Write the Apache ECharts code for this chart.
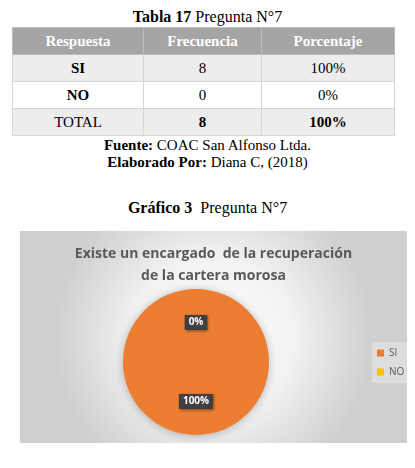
<!DOCTYPE html>
<html><head><meta charset="utf-8">
<script src="https://cdn.jsdelivr.net/npm/echarts@6/dist/echarts.min.js"></script>
<style>
body{margin:0;background:#fff;width:415px;height:468px;position:relative;overflow:hidden;font-family:"Liberation Serif","Times New Roman",serif;color:#000}
.t{position:absolute;left:0;width:415px;text-align:center;font-size:16px;line-height:18px}
table{position:absolute;left:12px;top:27px;width:383px;border-collapse:collapse;font-size:15px}
td,th{height:26px;padding:0;text-align:center;border:1px solid #d6d6d6}
th{background:#a5a5a5;color:#fff;font-weight:bold;border-color:#bdbdbd}
tr.g td{background:#ededed}
#c{position:absolute;left:20px;top:231px;width:387px;height:212px}
</style></head><body>
<div class="t" style="top:8px"><b>Tabla 17</b> Pregunta N°7</div>
<table id="tb"></table>
<div class="t" style="top:136px;font-size:15px"><b>Fuente:</b> COAC San Alfonso Ltda.</div>
<div class="t" style="top:153px;font-size:15px"><b>Elaborado Por:</b> Diana C, (2018)</div>
<div class="t" style="top:199px"><b>Gráfico 3</b>&nbsp; Pregunta N°7</div>
<div id="c"></div>
<script>
var headers = ["Respuesta", "Frecuencia", "Porcentaje"];
var categories = ["SI", "NO"];
var frequencies = [8, 0];
var percentages = ["100%", "0%"];
var totalLabel = "TOTAL";
var totalFreq = 8;
var totalPct = "100%";
var chartTitle = "Existe un encargado  de la recuperación\nde la cartera morosa";
var colors = ["#ED7D31", "#FFC000"];

var tb = document.getElementById('tb');
var h = '<tr>' + headers.map(function(x){return '<th>'+x+'</th>';}).join('') + '</tr>';
categories.forEach(function(c,i){
  h += '<tr class="'+(i%2===0?'g':'')+'"><td><b>'+c+'</b></td><td>'+frequencies[i]+'</td><td>'+percentages[i]+'</td></tr>';
});
h += '<tr class="g"><td>'+totalLabel+'</td><td><b>'+totalFreq+'</b></td><td><b>'+totalPct+'</b></td></tr>';
tb.innerHTML = h;
var cells = tb.rows[0].cells;
cells[0].style.width='130px'; cells[1].style.width='117px';

var chart = echarts.init(document.getElementById('c'));
chart.setOption({
  animation:false,
  backgroundColor:{type:'radial',x:0.5,y:0.5,r:0.75,colorStops:[{offset:0,color:'#ffffff'},{offset:0.5,color:'#f2f2f2'},{offset:1,color:'#cfcfcf'}]},
  title:{text:chartTitle,left:'center',top:7,textStyle:{fontFamily:'Open Sans',fontWeight:'bold',fontSize:14,color:'#595959',lineHeight:22}},
  legend:{orient:'vertical',left:352,top:111,itemWidth:7,itemHeight:7,itemGap:9,icon:'rect',backgroundColor:'rgba(255,255,255,0.3)',padding:[6,5],
    textStyle:{fontFamily:'Open Sans',fontSize:10,color:'#595959'},data:categories},
  series:[{
    type:'pie',center:[176,131],radius:[0,73],startAngle:90,clockwise:true,
    stillShowZeroSum:true,minShowLabelAngle:0,avoidLabelOverlap:false,
    itemStyle:{borderWidth:0,shadowBlur:8,shadowColor:'rgba(0,0,0,0.25)',shadowOffsetY:1},
    label:{show:true,position:'inside',formatter:'{d}%',backgroundColor:'#404040',color:'#fff',fontFamily:'Open Sans',fontWeight:'bold',fontSize:10,padding:[3,4,2,4],
      shadowBlur:3,shadowColor:'rgba(0,0,0,0.5)',shadowOffsetX:1,shadowOffsetY:1},
    labelLine:{show:false},
    data:categories.map(function(c,i){return {name:c,value:frequencies[i],itemStyle:{color:colors[i]}};})
  }]
});
</script>
</body></html>
